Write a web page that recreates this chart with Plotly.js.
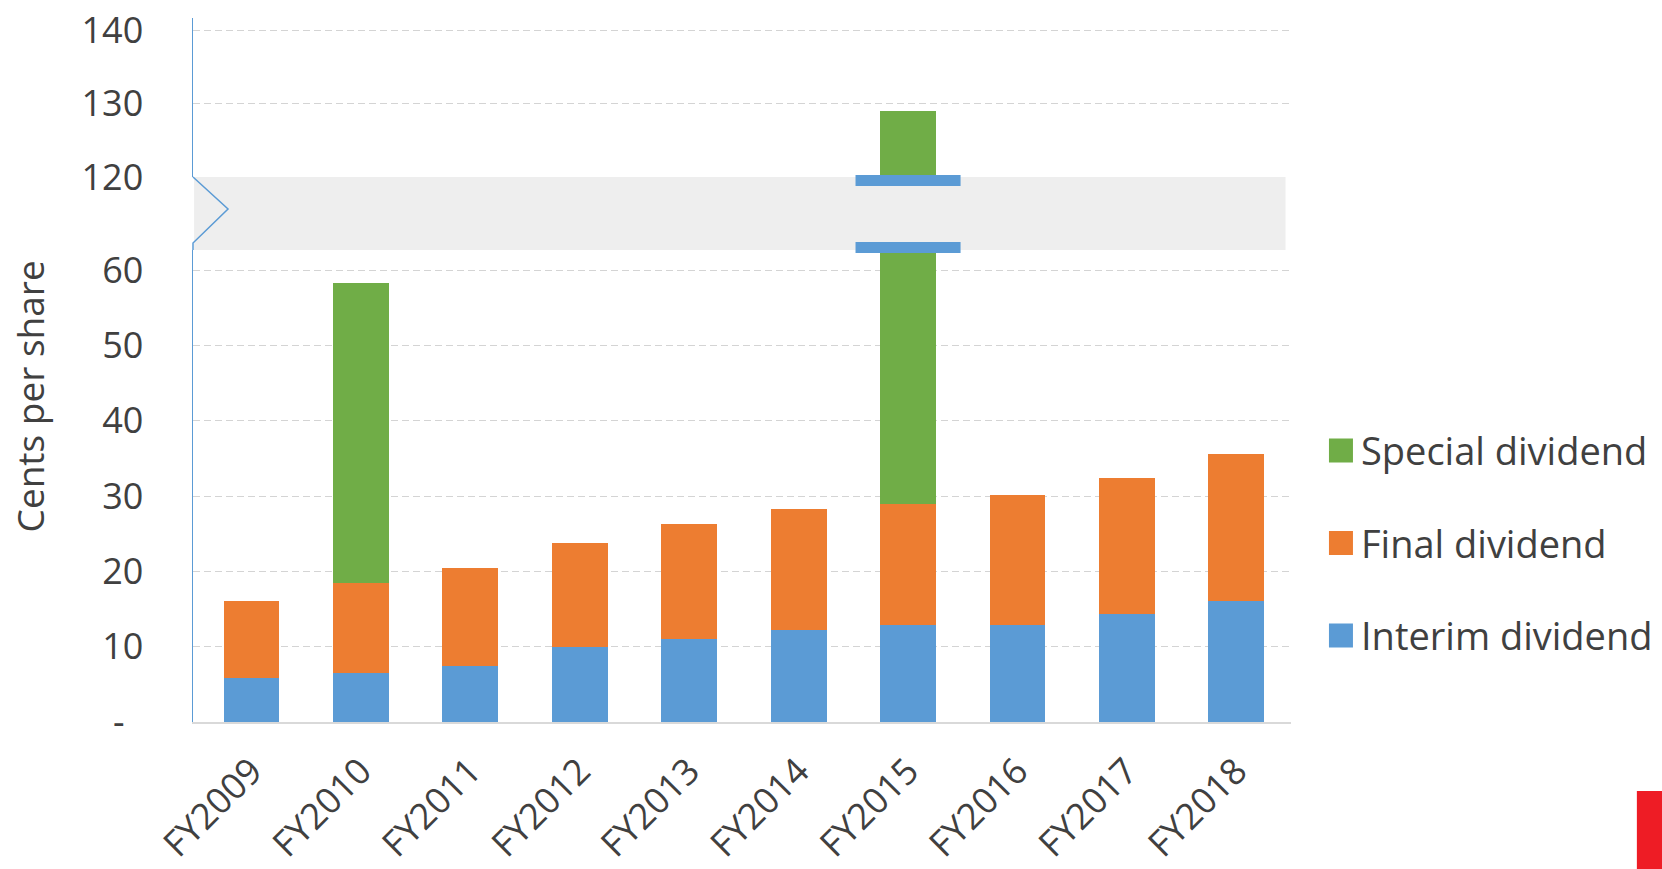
<!DOCTYPE html>
<html><head><meta charset="utf-8">
<script src="https://cdn.plot.ly/plotly-3.0.1.min.js"></script>
<style>html,body{margin:0;padding:0;background:#fff}#chart{width:1662px;height:869px}</style>
</head><body><div id="chart"></div>
<script>
const categories = ['FY2009','FY2010','FY2011','FY2012','FY2013','FY2014','FY2015','FY2016','FY2017','FY2018'];
const interim = [5.8, 6.5, 7.5, 9.9, 11.0, 12.2, 12.9, 12.9, 14.3, 16.1];
const finalDiv = [10.3, 12.0, 13.0, 13.9, 15.3, 16.1, 16.1, 17.2, 18.1, 19.5];
const special = [null, 39.8, null, null, null, null, 100.0, null, null, null];
const seriesNames = ['Interim dividend', 'Final dividend', 'Special dividend'];
const seriesColors = ['#5B9BD5', '#ED7D31', '#70AD47'];
const lowerTicks = [0, 10, 20, 30, 40, 50, 60];
const lowerTickText = ['-\u00a0\u00a0', '10', '20', '30', '40', '50', '60'];
const upperTicks = [120, 130, 140];
const upperTickText = ['120', '130', '140'];

const FONT = '"Open Sans", "Noto Sans", sans-serif';
const seriesData = [interim, finalDiv, special];
const traces = [];
['y', 'y2'].forEach(function (ax) {
  seriesData.forEach(function (vals, i) {
    traces.push({
      type: 'bar', x: categories, y: vals, name: seriesNames[i],
      xaxis: 'x', yaxis: ax, legendgroup: 'g' + i, legendrank: 3 - i,
      showlegend: ax === 'y',
      marker: {color: seriesColors[i], line: {width: 0}},
      hoverinfo: 'skip'
    });
  });
});

const gridDash = '7px,4px';
const layout = {
  width: 1662, height: 869,
  margin: {l: 193, r: 371, t: 18, b: 147, autoexpand: false},
  paper_bgcolor: '#fff', plot_bgcolor: 'rgba(0,0,0,0)',
  barmode: 'stack', bargap: 0.49,
  font: {family: FONT, color: '#404040', size: 36},
  showlegend: true,
  legend: {
    xref: 'container', yref: 'container',
    x: 0.7948, xanchor: 'left', y: 0.3747, yanchor: 'middle',
    traceorder: 'grouped', tracegroupgap: 40,
    font: {family: FONT, size: 38, color: '#404040'},
    bgcolor: 'rgba(0,0,0,0)', borderwidth: 0
  },
  xaxis: {
    type: 'category', anchor: 'y', domain: [0, 1], range: [-0.535, 9.5],
    showline: true, linecolor: '#D9D9D9', linewidth: 1.5,
    showgrid: false, zeroline: false, ticks: '',
    tickangle: -45, tickfont: {family: FONT, size: 36, color: '#404040'},
    ticklabelstandoff: 12
  },
  yaxis: {
    domain: [0, 0.6705], range: [0, 62.68], anchor: 'x',
    showline: true, linecolor: '#5B9BD5', linewidth: 1.5,
    showgrid: true, gridcolor: '#D4D4D4', gridwidth: 1, griddash: gridDash,
    zeroline: false, ticks: '',
    tickmode: 'array', tickvals: lowerTicks, ticktext: lowerTickText,
    tickfont: {family: FONT, size: 36, color: '#404040'},
    ticklabelstandoff: 41
  },
  yaxis2: {
    domain: [0.7741, 1], range: [120, 141.7], anchor: 'x',
    showline: true, linecolor: '#5B9BD5', linewidth: 1.5,
    showgrid: true, gridcolor: '#D4D4D4', gridwidth: 1, griddash: gridDash,
    zeroline: false, ticks: '',
    tickmode: 'array', tickvals: upperTicks, ticktext: upperTickText,
    tickfont: {family: FONT, size: 36, color: '#404040'},
    ticklabelstandoff: 41
  },
  annotations: [{
    text: 'Cents per share', xref: 'paper', yref: 'paper',
    x: -0.1485, y: 0.4624, xanchor: 'center', yanchor: 'middle',
    textangle: -90, showarrow: false,
    font: {family: FONT, size: 37, color: '#404040'}
  }],
  shapes: [
    {type: 'rect', xref: 'paper', yref: 'paper', x0: 0.001, x1: 0.995, y0: 0.6705, y1: 0.7741,
     fillcolor: '#EEEEEE', line: {width: 0}, layer: 'above'},
    {type: 'line', xref: 'x', yref: 'paper', x0: 5.52, x1: 6.48, y0: 0.7692, y1: 0.7692,
     line: {color: '#5B9BD5', width: 11}, layer: 'above'},
    {type: 'line', xref: 'x', yref: 'paper', x0: 5.52, x1: 6.48, y0: 0.6740, y1: 0.6740,
     line: {color: '#5B9BD5', width: 11}, layer: 'above'},
    {type: 'path', xref: 'paper', yref: 'paper',
     path: 'M0,0.7741 L0.0319,0.7287 L0,0.6804 L0,0.6705',
     line: {color: '#5B9BD5', width: 1.5}, layer: 'above'},
    {type: 'rect', xref: 'paper', yref: 'paper', x0: 1.315, x1: 1.36, y0: -0.25, y1: -0.098,
     fillcolor: '#EE1C25', line: {width: 0}, layer: 'above'}
  ]
};

Plotly.newPlot('chart', traces, layout, {displayModeBar: false, staticPlot: true}).then(function () {
  document.querySelectorAll('#chart .legend .legendpoints path').forEach(function (p) {
    p.setAttribute('d', 'M12,12H-12V-12H12Z');
  });
});
</script>
</body></html>
